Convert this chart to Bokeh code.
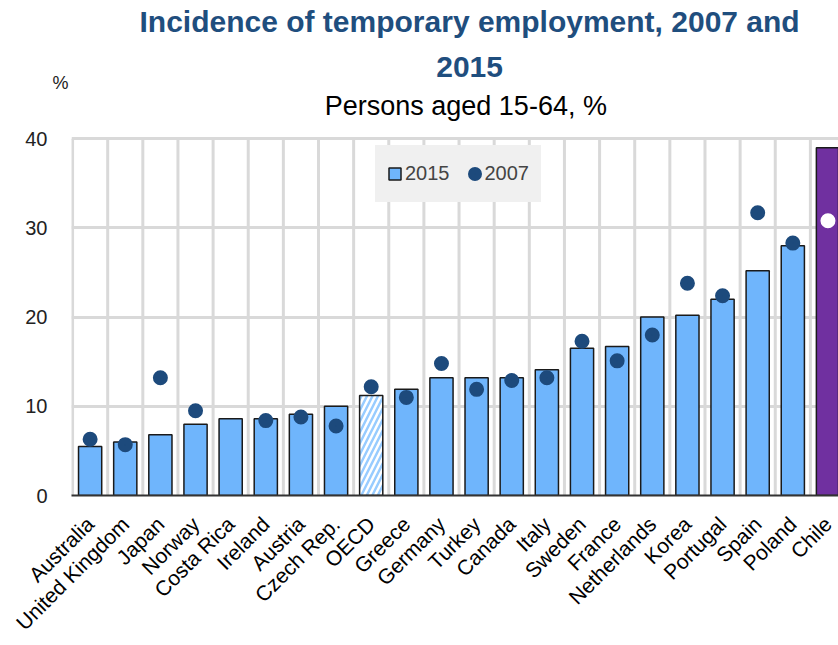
from bokeh.plotting import figure
from bokeh.models import (ColumnDataSource, Range1d, FixedTicker, Label, Legend, LegendItem,
                          LinearAxis)
from bokeh.embed import file_html
from bokeh.resources import INLINE
import math

countries = ["Australia", "United Kingdom", "Japan", "Norway", "Costa Rica", "Ireland",
             "Austria", "Czech Rep.", "OECD", "Greece", "Germany", "Turkey", "Canada",
             "Italy", "Sweden", "France", "Netherlands", "Korea", "Portugal", "Spain",
             "Poland", "Chile"]
v2015 = [5.5, 6.0, 6.8, 8.0, 8.6, 8.6, 9.1, 10.0, 11.2, 11.9, 13.2, 13.2, 13.2,
         14.1, 16.5, 16.7, 20.0, 20.2, 22.0, 25.2, 28.0, 39.0]
v2007 = [6.3, 5.7, 13.2, 9.5, float("nan"), 8.4, 8.8, 7.8, 12.2, 11.0, 14.8, 11.9, 12.9,
         13.2, 17.3, 15.1, 18.0, 23.8, 22.4, 31.7, 28.3, 30.8]
y_ticks = [0, 10, 20, 30, 40]
y_max = 40

BLUE = "#6fb5fc"
DARK = "#1d4a7c"
PURPLE = "#7030a0"
GRID = "#d9d9d9"
TITLE_C = "#1f4e7e"
FONT = "Liberation Sans"

n = len(countries)
xc = [i + 0.5 for i in range(n)]
fills = [PURPLE if c == "Chile" else ("white" if c == "OECD" else BLUE) for c in countries]
hatches = ["/" if c == "OECD" else " " for c in countries]
dot_col = ["white" if c == "Chile" else DARK for c in countries]

src = ColumnDataSource(dict(x=xc, top=v2015, y07=v2007, fill=fills, hatch=hatches, dc=dot_col))

# frame reaches the top of the canvas so the heading texts live inside it
p = figure(width=838, height=645, output_backend="svg", toolbar_location=None,
           x_range=Range1d(-0.03, 21.8), y_range=Range1d(0, 55.5),
           min_border_left=71, min_border_right=0, min_border_top=0, min_border_bottom=150)
p.outline_line_color = None
p.background_fill_color = "white"

# vertical grid lines between categories, limited to the value area
bounds = list(range(0, n + 1))
p.segment(x0=bounds, y0=[0] * len(bounds), x1=bounds, y1=[y_max] * len(bounds),
          line_color=GRID, line_width=3, level="underlay")

bars = p.vbar(x="x", top="top", bottom=0, width=0.66, source=src,
              fill_color="fill", line_color="#1a1a1a", line_width=1.5,
              hatch_pattern="hatch", hatch_color="#98ccff", hatch_scale=11, hatch_weight=2.5)
# small marker + thick outline: ~15 px dots on the plot and in the legend
dots = p.scatter(x="x", y="y07", source=src, size=7, marker="circle",
                 fill_color="dc", line_color="dc", line_width=8)

# x axis
p.xaxis.ticker = FixedTicker(ticks=xc)
p.xaxis.major_label_overrides = {x: c for x, c in zip(xc, countries)}
p.xaxis.major_label_orientation = math.pi / 4
p.xaxis.major_label_text_font = FONT
p.xaxis.major_label_text_font_size = "21px"
p.xaxis.major_label_text_color = "black"
p.xaxis.major_label_standoff = 19
p.xaxis.major_tick_line_color = None
p.xaxis.minor_tick_line_color = None
p.xaxis.axis_line_color = "#333333"
p.xaxis.axis_line_width = 2
p.xgrid.visible = False

# inner left axis: carries only the unit "%" above the value area
pct_y = 46.3
p.yaxis.ticker = FixedTicker(ticks=[pct_y])
p.yaxis.major_label_overrides = {pct_y: "%"}
p.yaxis.major_label_text_font = FONT
p.yaxis.major_label_text_font_size = "18px"
p.yaxis.major_label_text_color = "#222222"
p.yaxis.major_label_standoff = -3
p.yaxis.major_tick_line_color = None
p.yaxis.minor_tick_line_color = None
p.yaxis.axis_line_color = None

# outer left axis: value ticks
vax = LinearAxis(ticker=FixedTicker(ticks=y_ticks), major_label_text_font=FONT,
                 major_label_text_font_size="20px", major_label_text_color="#222222",
                 major_label_standoff=-4, major_tick_line_color=None,
                 minor_tick_line_color=None, axis_line_color=None)
p.add_layout(vax, "left")

p.ygrid.ticker = FixedTicker(ticks=[10, 20, 30, 40])
p.ygrid.grid_line_color = GRID
p.ygrid.grid_line_width = 3

# legend
LEG_BG = "#f0f0f0"
legend = Legend(items=[LegendItem(label="2015", renderers=[bars], index=0),
                       LegendItem(label="2007", renderers=[dots], index=0)],
                orientation="horizontal", location=(304, 293),
                background_fill_color=LEG_BG, background_fill_alpha=1,
                border_line_color=LEG_BG, border_line_width=1, padding=11, margin=0,
                spacing=17, label_text_font=FONT, label_text_font_size="20px",
                label_standoff=3, glyph_width=15, glyph_height=15, label_height=33)
p.add_layout(legend, "center")

# heading
cx = 11.3
p.add_layout(Label(x=cx, y=53.1, text="Incidence of temporary employment, 2007 and",
                   text_font=FONT, text_font_style="bold", text_font_size="30px",
                   text_color=TITLE_C, text_align="center", text_baseline="alphabetic"))
p.add_layout(Label(x=cx, y=48.1, text="2015",
                   text_font=FONT, text_font_style="bold", text_font_size="30px",
                   text_color=TITLE_C, text_align="center", text_baseline="alphabetic"))
p.add_layout(Label(x=cx, y=43.7, text="Persons aged 15-64,  %",
                   text_font=FONT, text_font_size="27px",
                   text_color="black", text_align="center", text_baseline="alphabetic"))

open("out.html", "w").write(file_html(p, INLINE))
